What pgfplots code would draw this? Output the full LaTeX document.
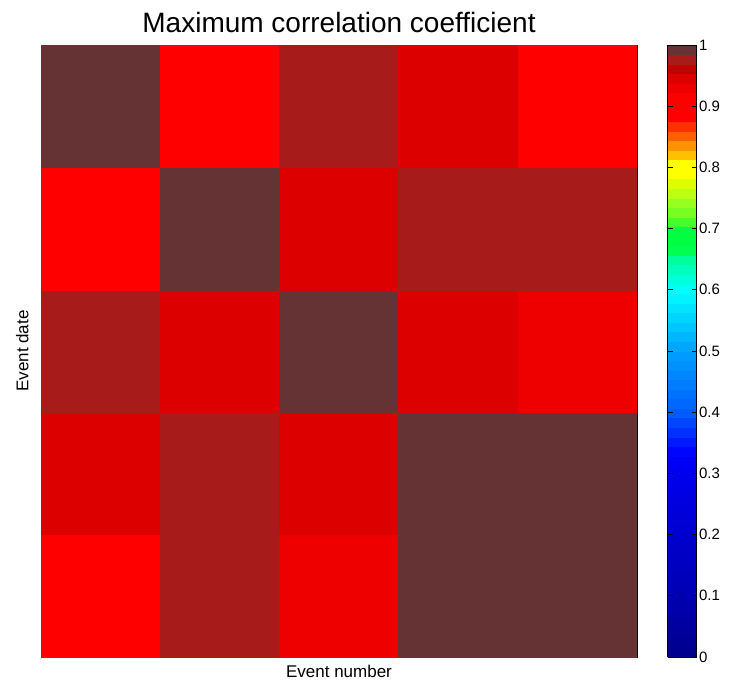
\documentclass[border=0pt]{standalone}
\usepackage{fontspec}
\setmainfont{Liberation Sans}
\usepackage{pgfplots}
\pgfplotsset{compat=1.18}
\pgfplotsset{
  colormap={basemap}{
    rgb255(0pt)=(0,0,143)
    rgb255(10pt)=(0,0,180)
    rgb255(20pt)=(0,0,208)
    rgb255(30pt)=(0,0,240)
    rgb255(33pt)=(0,0,255)
    rgb255(40pt)=(0,96,255)
    rgb255(50pt)=(0,160,255)
    rgb255(60pt)=(0,255,255)
    rgb255(65pt)=(0,255,160)
    rgb255(67pt)=(0,255,64)
    rgb255(70pt)=(0,255,64)
    rgb255(72pt)=(96,255,32)
    rgb255(75pt)=(160,255,32)
    rgb255(77.8pt)=(224,255,0)
    rgb255(79.37pt)=(255,255,0)
    rgb255(80.95pt)=(255,255,0)
    rgb255(82.54pt)=(255,192,0)
    rgb255(84.13pt)=(255,144,0)
    rgb255(85.71pt)=(255,96,0)
    rgb255(87.30pt)=(255,48,0)
    rgb255(88.89pt)=(255,0,0)
    rgb255(90.48pt)=(255,0,0)
    rgb255(92.06pt)=(255,0,0)
    rgb255(93.65pt)=(238,0,0)
    rgb255(95.24pt)=(221,0,0)
    rgb255(96.83pt)=(192,0,0)
    rgb255(98.41pt)=(168,27,27)
    rgb255(100pt)=(101,51,51)
  },
  colormap={stepmap}{samples of colormap=(64 of basemap)}
}
\pgfplotstableread{
x y c
0 0 0.914
1 0 0.976
2 0 0.93
3 0 1
4 0 1

0 1 0.945
1 1 0.976
2 1 0.945
3 1 1
4 1 1

0 2 0.976
1 2 0.945
2 2 1
3 2 0.945
4 2 0.93

0 3 0.914
1 3 1
2 3 0.945
3 3 0.976
4 3 0.976

0 4 1
1 4 0.914
2 4 0.976
3 4 0.945
4 4 0.914
}\corrdata
\begin{document}
\begin{tikzpicture}
\begin{axis}[
  scale only axis,
  width=596pt, height=612pt,
  xmin=-0.5, xmax=4.5, ymin=-0.5, ymax=4.5,
  xtick=\empty, ytick=\empty,
  axis line style={black, line width=0.9pt},
  title={\fontsize{28}{32}\selectfont Maximum correlation coefficient},
  title style={yshift=3pt},
  xlabel={\fontsize{17}{20}\selectfont Event number},
  ylabel={\fontsize{17}{20}\selectfont Event date},
  xlabel style={yshift=-5pt},
  ylabel style={yshift=9pt},
  colormap name=stepmap,
  colormap access=piecewise constant,
  point meta min=0, point meta max=1,
  colorbar,
  colorbar style={
    scale only axis,
    at={(parent axis.north east)},
    anchor=north west,
    xshift=22pt,
    width=29pt,
    height=612pt,
    ytick={0,0.1,0.2,0.3,0.4,0.5,0.6,0.7,0.8,0.9,1},
    yticklabels={0,0.1,0.2,0.3,0.4,0.5,0.6,0.7,0.8,0.9,1},
    yticklabel style={font=\fontsize{15}{17}\selectfont, xshift=-1pt},
    ytick pos=both,
    yticklabel pos=right,
    tick align=inside,
    major tick length=5pt,
    tick style={black, line width=0.9pt},
    axis line style={black, line width=0.9pt},
  },
]
\addplot[matrix plot*, mesh/cols=5, point meta=explicit] table[x=x, y=y, meta=c] {\corrdata};
\end{axis}
\pgfresetboundingbox
\path[use as bounding box] (-41pt,-31pt) rectangle (695pt,657pt);
\end{tikzpicture}
\end{document}
